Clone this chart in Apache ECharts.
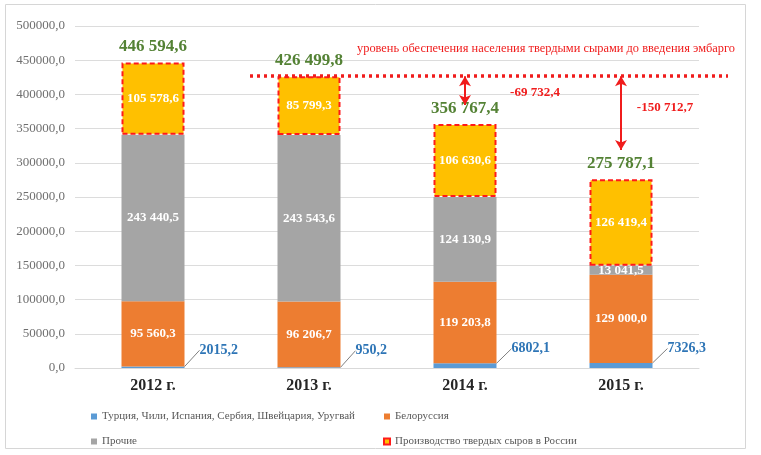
<!DOCTYPE html>
<html>
<head>
<meta charset="utf-8">
<script src="https://cdn.jsdelivr.net/npm/echarts@6/dist/echarts.min.js"></script>
<style>
  html, body { margin: 0; padding: 0; background: #fff; }
  #chart { width: 761px; height: 455px; }
</style>
</head>
<body>
<div id="chart"></div>
<script>
    // data
    var years = ['2012 г.', '2013 г.', '2014 г.', '2015 г.']
    var importOther = [2015.2, 950.2, 6802.1, 7326.3]          // Турция, Чили, ...
    var belarus = [95560.3, 96206.7, 119203.8, 129000.0]
    var others = [243440.5, 243543.6, 124130.9, 13041.5]
    var russia = [105578.6, 85799.3, 106630.6, 126419.4]
    var totals = [446594.6, 426499.8, 356767.4, 275787.1]
    var level = 426499.8                                        // уровень до эмбарго
    var arrowEnds = [null, null, 384500, 318700]               // where the red arrows stop

    // where the difference labels sit next to their arrow (px)
    var diffLabelOffsets = [null, null, [70, 2], [44, -6]]

    var names = [
        'Турция, Чили, Испания, Сербия, Швейцария, Уругвай',
        'Белоруссия',
        'Прочие',
        'Производство твердых сыров в России'
    ]

    var FONT = '"Liberation Serif", "DejaVu Serif", serif'
    var RED = '#f01c1c'

    function fmt(v) {
        var parts = Math.abs(v).toFixed(1).split('.')
        return parts[0].replace(/\B(?=(\d{3})+(?!\d))/g, ' ') + ',' + parts[1]
    }

    var chart = echarts.init(document.getElementById('chart'))

    var insideLabel = {
        show: true,
        position: 'inside',
        color: '#fff',
        fontFamily: FONT,
        fontWeight: 'bold',
        fontSize: 13,
        formatter: function (p) { return fmt(p.value) }
    }

    var arrows = []
    var diffPoints = []
    for (var i = 0; i < years.length; i++) {
        if (arrowEnds[i] == null) continue
        arrows.push([
            { coord: [years[i], level] },
            { coord: [years[i], arrowEnds[i]] }
        ])
        diffPoints.push({
            coord: [years[i], (level + arrowEnds[i]) / 2],
            value: -(level - totals[i]),
            label: { offset: diffLabelOffsets[i] }
        })
    }

    var legendText = { color: '#595959', fontSize: 11, fontFamily: FONT }

    chart.setOption({
        animation: false,
        textStyle: { fontFamily: FONT },
        graphic: [
            {
                type: 'rect',
                shape: { x: 5.5, y: 4.5, width: 740, height: 444 },
                style: { fill: 'none', stroke: '#d6d6d6', lineWidth: 1 },
                silent: true
            },
            {
                type: 'text',
                left: 357,
                top: 43,
                style: {
                    text: 'уровень обеспечения населения твердыми сырами до введения эмбарго',
                    fill: RED,
                    font: '12.4px ' + FONT
                }
            }
        ],
        grid: { left: 75, right: 62, top: 26, bottom: 87 },
        legend: [
            {
                data: [names[0], names[2]],
                orient: 'vertical',
                left: 86,
                top: 406,
                itemGap: 14,
                itemWidth: 6,
                itemHeight: 6,
                icon: 'rect',
                textStyle: legendText
            },
            {
                data: [names[1], names[3]],
                orient: 'vertical',
                left: 378,
                top: 406,
                itemGap: 14,
                itemWidth: 6,
                itemHeight: 6,
                icon: 'rect',
                textStyle: legendText
            }
        ],
        xAxis: {
            type: 'category',
            data: years,
            axisLine: { lineStyle: { color: '#d9d9d9' } },
            axisTick: { show: false },
            axisLabel: {
                color: '#262626',
                fontFamily: FONT,
                fontWeight: 'bold',
                fontSize: 16,
                margin: 10
            }
        },
        yAxis: {
            type: 'value',
            min: 0,
            max: 500000,
            interval: 50000,
            axisLine: { show: false },
            axisTick: { show: false },
            splitLine: { lineStyle: { color: '#dcdcdc' } },
            axisLabel: {
                color: '#6f6f6f',
                fontFamily: FONT,
                fontSize: 13,
                margin: 10,
                formatter: function (v) { return v.toFixed(1).replace('.', ',') }
            }
        },
        series: [
            {
                name: names[0],
                type: 'bar',
                stack: 'all',
                barWidth: 63,
                data: importOther,
                itemStyle: { color: '#5b9bd5' },
                label: {
                    show: true,
                    position: 'right',
                    distance: 15,
                    color: '#2e75b6',
                    fontFamily: FONT,
                    fontWeight: 'bold',
                    fontSize: 14,
                    formatter: function (p) { return p.value.toFixed(1).replace('.', ',') }
                },
                labelLayout: { dy: -17 },
                labelLine: { show: true, lineStyle: { color: '#7f7f7f', width: 1 } }
            },
            {
                name: names[1],
                type: 'bar',
                stack: 'all',
                data: belarus,
                itemStyle: { color: '#ed7d31' },
                label: insideLabel
            },
            {
                name: names[2],
                type: 'bar',
                stack: 'all',
                data: others,
                itemStyle: { color: '#a5a5a5' },
                label: insideLabel
            },
            {
                name: names[3],
                type: 'bar',
                stack: 'all',
                data: russia,
                itemStyle: {
                    color: '#ffc000',
                    borderColor: '#ff1a1a',
                    borderWidth: 2,
                    borderType: [5, 3]
                },
                label: insideLabel
            },
            {
                // total labels above the columns
                name: 'total',
                type: 'bar',
                stack: 'all',
                data: years.map(function () { return 0 }),
                itemStyle: { color: 'transparent' },
                label: {
                    show: true,
                    position: 'top',
                    distance: 7,
                    color: '#548235',
                    fontFamily: FONT,
                    fontWeight: 'bold',
                    fontSize: 17,
                    formatter: function (p) { return fmt(totals[p.dataIndex]) }
                }
            },
            {
                // annotations: arrows and differences
                name: 'annot',
                type: 'line',
                data: [],
                markLine: {
                    silent: true,
                    symbol: ['arrow', 'arrow'],
                    symbolSize: [9, 10],
                    lineStyle: { color: RED, width: 2, type: 'solid' },
                    label: { show: false },
                    data: arrows
                },
                markPoint: {
                    silent: true,
                    symbol: 'circle',
                    symbolSize: 1,
                    itemStyle: { color: 'transparent' },
                    label: {
                        show: true,
                        position: 'inside',
                        color: RED,
                        fontFamily: FONT,
                        fontWeight: 'bold',
                        fontSize: 13,
                        formatter: function (p) { return '-' + fmt(p.value) }
                    },
                    data: diffPoints
                }
            }
        ]
    })

    // dotted level line runs wider than the plot, so place it in pixels from the y scale
    var yLevel = chart.convertToPixel({ yAxisIndex: 0 }, level)
    var lineMarks = arrows.slice()
    lineMarks.push([
        { x: 250, y: yLevel - 1, symbol: 'none', lineStyle: { type: [3, 4], width: 3.5, color: RED } },
        { x: 728, y: yLevel - 1, symbol: 'none' }
    ])
    chart.setOption({
        series: [{ name: 'annot', markLine: { data: lineMarks } }]
    })
</script>
</body>
</html>
